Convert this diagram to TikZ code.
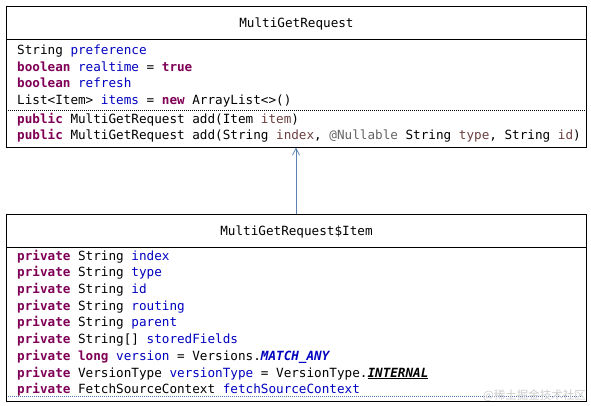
\documentclass[tikz,border=0pt]{standalone}
\usepackage{fontspec}
\setmonofont{DejaVu Sans Mono}
\newfontfamily\cjkfont{Noto Sans CJK SC}
\usetikzlibrary{arrows.meta}
\definecolor{kwcol}{HTML}{7F0055}
\definecolor{fldcol}{HTML}{0000C0}
\definecolor{prmcol}{HTML}{6A3E3E}
\definecolor{anncol}{HTML}{646464}
\definecolor{arrcol}{HTML}{5B82AE}
\definecolor{sepcol}{HTML}{4F74B0}
\newcommand\kwd[1]{\textcolor{kwcol}{\bfseries #1}}
\newcommand\fld[1]{\textcolor{fldcol}{#1}}
\newcommand\prm[1]{\textcolor{prmcol}{#1}}
\newcommand\anno[1]{\textcolor{anncol}{#1}}
\newcommand\cst[1]{\textcolor{fldcol}{\bfseries\itshape #1}}
\tikzset{
  classbox/.style={draw=black, line width=0.8pt, inner sep=0pt, minimum width=580pt},
  codeline/.style={anchor=west, inner sep=0pt, text height=9.5pt, text depth=2.6pt, yshift=-1.5pt,
    font=\ttfamily\fontsize{12.65}{15}\selectfont},
  title/.style={inner sep=0pt, text height=9.5pt, text depth=2.6pt, yshift=-1.5pt,
    font=\ttfamily\fontsize{12.65}{15}\selectfont},
  rule/.style={line width=0.8pt},
  dotrule/.style={line width=0.6pt, dash pattern=on 1pt off 1pt},
  assoc/.style={draw=arrcol, line width=0.8pt, -{Straight Barb[length=7pt,width=7pt]}},
}
\begin{document}
\begin{tikzpicture}[x=1pt, y=-1pt]
\useasboundingbox (0,0) rectangle (591,406);
% boxes
\node[classbox, minimum height=141pt] (top) at (296,76.5) {};
\node[classbox, minimum height=187pt] (item) at (296,307.5) {};
% compartments
\draw[rule] (6,39) -- (586,39);
\draw[dotrule, black] (6,110) -- (586,110);
\draw[rule] (6,247) -- (586,247);
\draw[dotrule, sepcol] (8,396.5) -- (584,396.5);
% titles
\node[title] (t1) at (296.5,23) {MultiGetRequest};
\node[title] (t2) at (296.5,231) {MultiGetRequest\$Item};
% top class lines
\node[codeline] (a1) at (17,50) {String \fld{preference}};
\node[codeline] (a2) at (17,66.7) {\kwd{boolean} \fld{realtime} = \kwd{true}};
\node[codeline] (a3) at (17,83) {\kwd{boolean} \fld{refresh}};
\node[codeline] (a4) at (17,99.5) {List<Item> \fld{items} = \kwd{new} ArrayList<>()};
\node[codeline] (a5) at (17,118.3) {\kwd{public} MultiGetRequest add(Item \prm{item})};
\node[codeline] (a6) at (17,135) {\kwd{public} MultiGetRequest add(String \prm{index}, \anno{@Nullable} String \prm{type}, String \prm{id})};
% item class lines
\node[codeline] (b1) at (17,255.3) {\kwd{private} String \fld{index}};
\node[codeline] (b2) at (17,272) {\kwd{private} String \fld{type}};
\node[codeline] (b3) at (17,288.6) {\kwd{private} String \fld{id}};
\node[codeline] (b4) at (17,305.3) {\kwd{private} String \fld{routing}};
\node[codeline] (b5) at (17,321.9) {\kwd{private} String \fld{parent}};
\node[codeline] (b6) at (17,338.5) {\kwd{private} String[] \fld{storedFields}};
\node[codeline] (b7) at (17,355.4) {\kwd{private} \kwd{long} \fld{version} = Versions.\cst{MATCH\_ANY}};
\node[codeline] (b8) at (17,372.2) {\kwd{private} VersionType \fld{versionType} = VersionType.{\bfseries\itshape\underline{INTERNAL}}};
\node[codeline] (b9) at (17,388.8) {\kwd{private} FetchSourceContext \fld{fetchSourceContext}};
% watermark
\node[anchor=east, inner sep=0pt, text=black!20, font=\cjkfont\fontsize{11.5}{12}\selectfont] (wm) at (586,396) {@稀土掘金技术社区};
% association
\draw[assoc] (item.north) -- (top.south);
\end{tikzpicture}
\end{document}
